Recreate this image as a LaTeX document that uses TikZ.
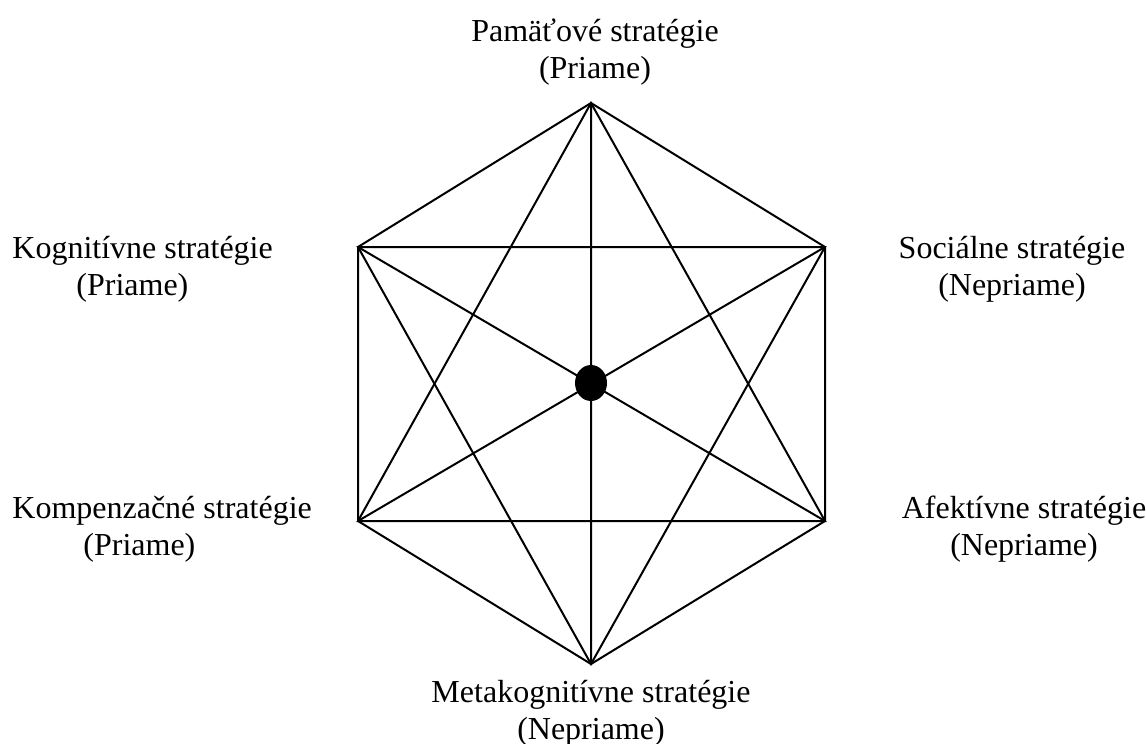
\documentclass[tikz,border=0pt]{standalone}
\usepackage{fontspec}
\setmainfont{Liberation Serif}
\usetikzlibrary{shapes.geometric}
\tikzset{lbl/.style={
    font=\fontsize{16}{18.5}\selectfont,
    inner sep=0pt,
    anchor=base
  },
  clbl/.style={lbl,align=center},
  llbl/.style={lbl,align=left,anchor=base west},
  link/.style={line width=1pt,line join=miter},
  hub/.style={ellipse,fill=black,inner sep=0pt,
    minimum width=16pt,minimum height=18pt},
}
\begin{document}
\begin{tikzpicture}[x=0.5pt,y=-0.5pt]
  \useasboundingbox (0,0) rectangle (1146,744);
  \coordinate (t) at (591,103);
  \coordinate (ur) at (825,247);
  \coordinate (lr) at (825,521);
  \coordinate (b) at (591,664);
  \coordinate (ll) at (358,521);
  \coordinate (ul) at (358,247);
  % hexagon
  \draw[link] (t) -- (ur) -- (lr) -- (b) -- (ll) -- (ul) -- cycle;
  % two triangles
  \draw[link] (t) -- (ll) -- (lr) -- cycle;
  \draw[link] (b) -- (ul) -- (ur) -- cycle;
  % long diagonals
  \draw[link] (t) -- (b) (ul) -- (lr) (ur) -- (ll);
  \node[hub] (c) at (591,383) {};
  % labels (anchored at the baseline of the second line)
  \node[clbl] (pam) at (595,78) {Pamäťové stratégie\\(Priame)};
  \node[llbl] (kog) at (12,295) {Kognitívne stratégie\\\hspace*{32pt}(Priame)};
  \node[llbl] (kom) at (12,555) {Kompenzačné stratégie\\\hspace*{35.5pt}(Priame)};
  \node[clbl] (soc) at (1012,295) {Sociálne stratégie\\(Nepriame)};
  \node[clbl] (afe) at (1024,555) {Afektívne stratégie\\(Nepriame)};
  \node[clbl] (met) at (591,739) {Metakognitívne stratégie\\(Nepriame)};
\end{tikzpicture}
\end{document}
